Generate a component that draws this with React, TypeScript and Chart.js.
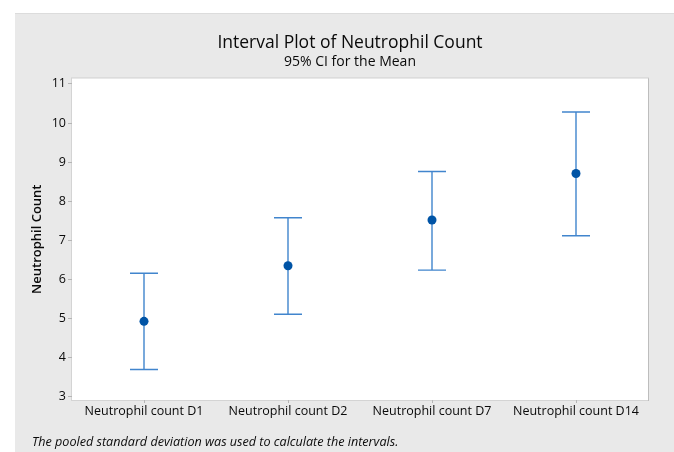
import React, { useEffect, useRef } from "react";
import { Chart, registerables } from "chart.js";

Chart.register(...registerables);

const categories = ["Neutrophil count D1", "Neutrophil count D2", "Neutrophil count D7", "Neutrophil count D14"];
const means = [4.93, 6.35, 7.52, 8.71];
const lower = [3.70, 5.11, 6.24, 7.12];
const upper = [6.16, 7.58, 8.76, 10.28];
const yTicks = [3, 4, 5, 6, 7, 8, 9, 10, 11];

const titleText = "Interval Plot of Neutrophil Count";
const subtitleText = "95% CI for the Mean";
const yTitle = "Neutrophil Count";
const footnote = "The pooled standard deviation was used to calculate the intervals.";

const FONT = "'Open Sans', 'Noto Sans', sans-serif";
const TEXT = "#0a0a0a";

const backgroundPlugin = {
  id: "bgPanel",
  beforeDraw(chart: any) {
    const { ctx, width, height, chartArea } = chart;
    ctx.save();
    ctx.fillStyle = "#ffffff";
    ctx.fillRect(0, 0, width, height);
    ctx.fillStyle = "#e9e9e9";
    ctx.fillRect(15, 13, width - 15, height - 13);
    ctx.fillStyle = "#dcdcdc";
    ctx.fillRect(15, 13, width - 15, 1);
    ctx.fillStyle = "#ffffff";
    ctx.fillRect(chartArea.left, chartArea.top, chartArea.right - chartArea.left, chartArea.bottom - chartArea.top);
    ctx.strokeStyle = "#d4d4d4";
    ctx.lineWidth = 1;
    ctx.strokeRect(chartArea.left - 0.5, chartArea.top - 0.5, chartArea.right - chartArea.left + 1, chartArea.bottom - chartArea.top + 1);
    ctx.strokeStyle = "#bdbdbd";
    ctx.beginPath();
    ctx.moveTo(chartArea.right + 0.5, chartArea.top);
    ctx.lineTo(chartArea.right + 0.5, chartArea.bottom + 1);
    ctx.stroke();
    ctx.restore();
  },
};

const whiskerPlugin = {
  id: "whiskers",
  beforeDatasetsDraw(chart: any) {
    const { ctx, scales } = chart;
    const xs = scales.x;
    const ys = scales.y;
    ctx.save();
    ctx.strokeStyle = "#4185cd";
    ctx.lineWidth = 1.4;
    categories.forEach((_, i) => {
      const x = xs.getPixelForValue(i);
      const yl = ys.getPixelForValue(lower[i]);
      const yu = ys.getPixelForValue(upper[i]);
      const cap = 14;
      ctx.beginPath();
      ctx.moveTo(x, yl);
      ctx.lineTo(x, yu);
      ctx.moveTo(x - cap, yu);
      ctx.lineTo(x + cap, yu);
      ctx.moveTo(x - cap, yl);
      ctx.lineTo(x + cap, yl);
      ctx.stroke();
    });
    ctx.restore();
  },
};

const footnotePlugin = {
  id: "footnote",
  afterDraw(chart: any) {
    const { ctx } = chart;
    ctx.save();
    ctx.fillStyle = TEXT;
    ctx.font = `italic 12.6px ${FONT}`;
    ctx.textAlign = "left";
    ctx.textBaseline = "alphabetic";
    ctx.fillText(footnote, 32, 446);
    ctx.restore();
  },
};

export default function App() {
  const ref = useRef<HTMLCanvasElement | null>(null);

  useEffect(() => {
    document.body.style.margin = "0";
    if (!ref.current) return;
    const chart = new Chart(ref.current, {
      type: "line",
      data: {
        labels: categories,
        datasets: [
          {
            label: "Mean",
            data: means,
            showLine: false,
            pointRadius: 4.5,
            pointHoverRadius: 4.5,
            pointBackgroundColor: "#0054a6",
            pointBorderColor: "#0054a6",
            pointBorderWidth: 0,
          },
        ],
      },
      options: {
        responsive: false,
        animation: false,
        events: [],
        layout: { padding: { left: 52, right: 26, top: 13, bottom: 0 } },
        plugins: {
          legend: { display: false },
          tooltip: { enabled: false },
          title: {
            display: true,
            text: titleText,
            color: TEXT,
            font: { family: FONT, size: 17.5, weight: "normal", lineHeight: 1.2 },
            padding: { top: 20, bottom: 0 },
          },
          subtitle: {
            display: true,
            text: subtitleText,
            color: TEXT,
            font: { family: FONT, size: 14, weight: "normal", lineHeight: 1.2 },
            padding: { top: 0, bottom: 7.6 },
          },
        },
        scales: {
          x: {
            type: "category",
            offset: true,
            grid: { drawOnChartArea: false, drawTicks: true, tickLength: 3, color: "#b5b5b5", offset: false },
            border: { display: false },
            ticks: { color: TEXT, font: { family: FONT, size: 12.5 }, padding: 1, maxRotation: 0, autoSkip: false },
            afterFit: (scale: any) => {
              scale.height = 52;
            },
          },
          y: {
            type: "linear",
            min: 2.92,
            max: 11.14,
            afterBuildTicks: (scale: any) => {
              scale.ticks = yTicks.map((v) => ({ value: v }));
            },
            grid: { drawOnChartArea: false, drawTicks: true, tickLength: 4, color: "#b5b5b5" },
            border: { display: false },
            ticks: { color: TEXT, font: { family: FONT, size: 12.5 }, padding: 2 },
            title: {
              display: true,
              text: yTitle,
              color: TEXT,
              font: { family: FONT, size: 13, weight: "600", lineHeight: 1.2 },
              padding: { top: -22.3, bottom: 0 },
            },
            afterFit: (scale: any) => {
              scale.width = 20;
            },
          },
        },
      },
      plugins: [backgroundPlugin, whiskerPlugin, footnotePlugin],
    });
    return () => chart.destroy();
  }, []);

  return (
    <div style={{ width: 674, height: 452, margin: 0, padding: 0 }}>
      <canvas ref={ref} width={674} height={452} style={{ display: "block", width: 674, height: 452 }} />
    </div>
  );
}
